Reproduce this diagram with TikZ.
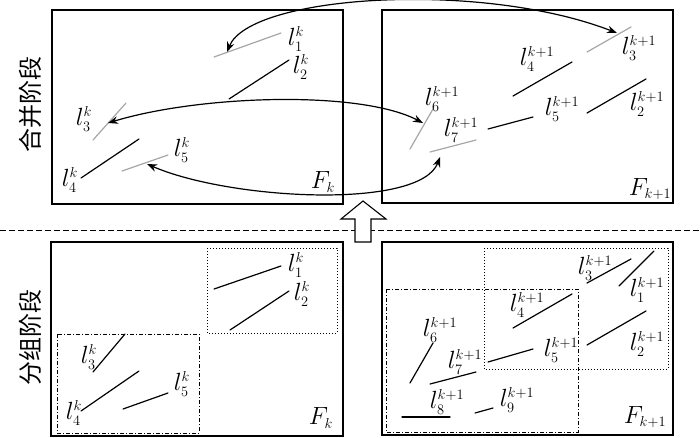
\documentclass[tikz,border=0pt]{standalone}
\usepackage{fontspec}
\newfontfamily\cjk{Noto Sans CJK SC}
\DeclareMathSizes{24.88}{24.88}{14.4}{10}
\usetikzlibrary{arrows.meta}
\begin{document}
\begin{tikzpicture}[x=1pt,y=-1pt,
  frame/.style={draw=black,line width=1.2pt},
  seg/.style={line width=1.2pt,line cap=round},
  gseg/.style={line width=1.2pt,draw=black!35,line cap=round},
  lab/.style={inner sep=0pt,font=\fontsize{24.88}{28}\selectfont},
  grpdot/.style={dotted,line width=1pt},
  grpdd/.style={dash pattern=on 4pt off 2pt on 1pt off 2pt,line width=1pt},
  link/.style={line width=1.2pt,{Stealth[length=10pt,width=7.5pt]}-{Stealth[length=10pt,width=7.5pt]}},
  stage/.style={font=\cjk\fontsize{24}{26}\selectfont,rotate=90,inner sep=0pt}]
\useasboundingbox (0,0) rectangle (700,437);

% separator
\draw[line width=1pt,dash pattern=on 6pt off 3pt] (0,230) -- (700,230);

% stage labels
\node[stage] (merge) at (30,104) {合并阶段};
\node[stage] (group) at (30,337) {分组阶段};

% frames
\draw[frame] (52,10) rectangle (343,204);
\draw[frame] (382,10) rectangle (673,203);
\draw[frame] (51,242) rectangle (343,436);
\draw[frame] (382,242) rectangle (673,435);

% ===== top left (F_k, merge)
\draw[gseg] (214,57) -- (281,33);
\draw[seg] (229,99) -- (289,60);
\draw[gseg] (93,140) -- (126,103);
\draw[seg] (81,178) -- (139,139);
\draw[gseg] (122,171) -- (168,155);
\node[lab] (a1) at (296,39) {$l_1^k$};
\node[lab] (a2) at (301,67) {$l_2^k$};
\node[lab] (a3) at (84,119) {$l_3^k$};
\node[lab] (a4) at (70,180) {$l_4^k$};
\node[lab] (a5) at (182,150) {$l_5^k$};
\node[lab] (fa) at (323,182) {$F_k$};

% ===== top right (F_{k+1}, merge)
\draw[gseg] (587,52) -- (631,27);
\draw[seg] (513,96) -- (572,62);
\draw[seg] (488,129) -- (533,117);
\draw[seg] (587,113) -- (646,79);
\draw[gseg] (410,149) -- (433,109);
\draw[gseg] (430,152) -- (476,140);
\node[lab] (b3) at (639,48) {$l_3^{k+1}$};
\node[lab] (b4) at (537,59) {$l_4^{k+1}$};
\node[lab] (b5) at (562,109) {$l_5^{k+1}$};
\node[lab] (b2) at (647,104) {$l_2^{k+1}$};
\node[lab] (b6) at (442,99) {$l_6^{k+1}$};
\node[lab] (b7) at (461,130) {$l_7^{k+1}$};
\node[lab] (fb) at (650,189) {$F_{k+1}$};

% links
\coordinate (p1) at (227,52);
\coordinate (q3) at (617,33);
\coordinate (p3) at (108,123);
\coordinate (q6) at (423,123);
\coordinate (p5) at (147,164);
\coordinate (q7) at (440,157);
\draw[link] (p1) .. controls (250,-5) and (480,-20) .. (q3);
\draw[link] (p3) .. controls (200,95) and (360,90) .. (q6);
\draw[link] (p5) .. controls (230,200) and (420,210) .. (q7);

% hollow up arrow
\draw[line width=1.1pt,fill=white] (355,242) -- (355,219) -- (341,219) -- (363,201) -- (386,219) -- (371,219) -- (371,242) -- cycle;

% ===== bottom left (F_k, grouping)
\draw[grpdot] (207,248) rectangle (337,333);
\draw[grpdd] (57,334) rectangle (199,433);
\draw[seg] (214,289) -- (281,266);
\draw[seg] (230,330) -- (289,291);
\draw[seg] (93,372) -- (125,334);
\draw[seg] (81,411) -- (139,371);
\draw[seg] (123,409) -- (168,393);
\node[lab] (c1) at (296,265) {$l_1^k$};
\node[lab] (c2) at (302,294) {$l_2^k$};
\node[lab] (c3) at (89,357) {$l_3^k$};
\node[lab] (c4) at (74,413) {$l_4^k$};
\node[lab] (c5) at (182,384) {$l_5^k$};
\node[lab] (fc) at (321,418) {$F_k$};

% ===== bottom right (F_{k+1}, grouping)
\draw[grpdot] (484,248) rectangle (668,369);
\draw[grpdd] (386,289) rectangle (578,432);
\draw[seg] (587,283) -- (631,259);
\draw[seg] (619,286) -- (654,251);
\draw[seg] (513,328) -- (572,294);
\draw[seg] (488,362) -- (533,349);
\draw[seg] (587,345) -- (646,311);
\draw[seg] (410,383) -- (433,343);
\draw[seg] (430,384) -- (476,372);
\draw[seg] (402,417) -- (450,417);
\draw[seg] (475,413) -- (493,408);
\node[lab] (d3) at (595,268) {$l_3^{k+1}$};
\node[lab] (d1) at (647,290) {$l_1^{k+1}$};
\node[lab] (d4) at (527,305) {$l_4^{k+1}$};
\node[lab] (d5) at (561,350) {$l_5^{k+1}$};
\node[lab] (d2) at (647,344) {$l_2^{k+1}$};
\node[lab] (d6) at (440,330) {$l_6^{k+1}$};
\node[lab] (d7) at (465,362) {$l_7^{k+1}$};
\node[lab] (d8) at (447,402) {$l_8^{k+1}$};
\node[lab] (d9) at (517,400) {$l_9^{k+1}$};
\node[lab] (fd) at (645,417) {$F_{k+1}$};
\end{tikzpicture}
\end{document}
